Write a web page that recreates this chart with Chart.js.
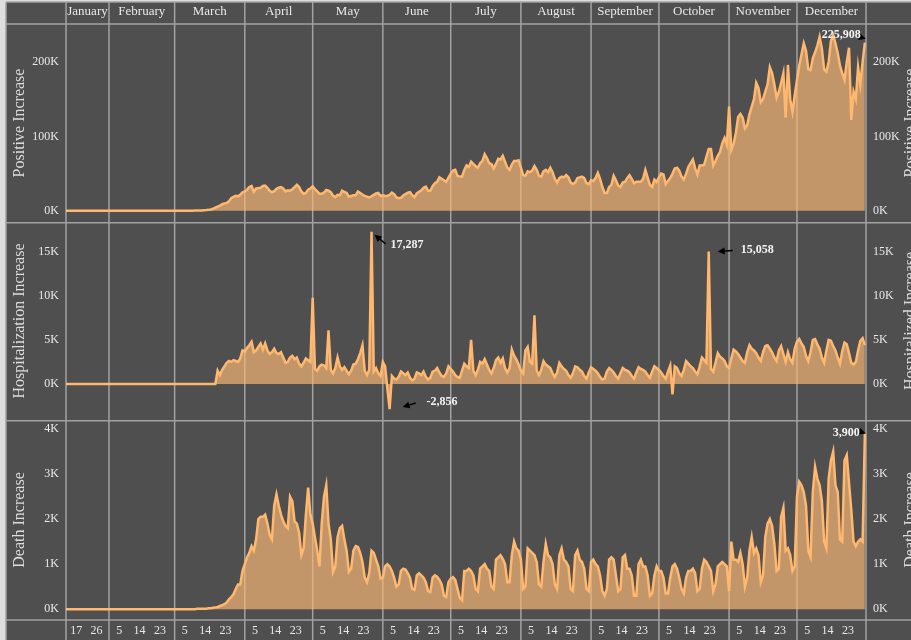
<!DOCTYPE html>
<html lang="en">
<head>
<meta charset="UTF-8">
<title>Daily increases 2020</title>
<script src="https://cdn.jsdelivr.net/npm/chart.js"></script>
<style>
    body { margin: 0; background: #dedede; }
    #frame { position: relative; width: 911px; height: 640px; }
    .pane { position: absolute; left: 0; width: 911px; }
    #p1 { top: 0; height: 222px; }
    #p2 { top: 222px; height: 198px; }
    #p3 { top: 420px; height: 220px; }
</style>
</head>
<body>
<div id="frame">
    <div class="pane" id="p1"><canvas id="c1"></canvas></div>
    <div class="pane" id="p2"><canvas id="c2"></canvas></div>
    <div class="pane" id="p3"><canvas id="c3"></canvas></div>
</div>

<script>
    // calendar / tick labels
    const months = ['January', 'February', 'March', 'April', 'May', 'June', 'July',
                    'August', 'September', 'October', 'November', 'December'];
    const firstDay = 13;            // data starts 13 January 2020
    const janTickDays = [17, 26];
    const tickDays = [5, 14, 23];
    const posTicks = [0, 100, 200];
    const hospTicks = [0, 5, 10, 15];
    const deathTicks = [0, 1, 2, 3, 4];

    // daily values, in thousands, one array per month
    const posJan = [0,0,0,0,0,0,0,0,0,0,0,0,0,0,0,0,0,0,0];
    const posFeb = [0,0,0,0,0,0,0,0,0,0,0,0,0,0,0,0,0,0,0,0,0,0,0,0,0,0,0,0,0];
    const posMar = [0,0,0.1,0.1,0.1,0.1,0.1,0.1,0.2,0.3,0.4,0.5,0.6,0.9,1.0,1.3,1.8,2.8,4.3,5.7,6.9,8.9,10.0,10.5,12.7,16.9,18.9,20.3,19.5,21.5,25.0];
    const posApr = [26.0,28.5,32.0,33.5,25.5,30.0,30.5,31.0,33.5,34.0,31.0,27.0,25.0,26.5,29.5,31.0,32.0,30.0,26.0,27.5,27.0,29.0,32.0,35.0,32.0,26.0,23.0,24.0,28.5,30.0];
    const posMay = [33.0,29.0,26.0,23.0,23.0,24.5,28.0,27.0,25.0,20.5,18.5,21.5,21.0,27.0,25.5,24.0,19.0,20.0,21.0,21.0,26.0,24.0,22.0,20.0,19.0,18.0,19.5,21.5,23.5,24.0,20.0];
    const posJun = [21.0,20.0,20.0,21.5,24.5,22.5,18.0,17.0,17.5,20.5,22.5,24.5,25.0,21.0,18.5,23.5,25.5,27.5,31.0,32.5,27.0,27.0,33.0,37.0,39.0,45.0,43.0,41.0,39.0,44.5];
    const posJul = [50,54,55,47,46,46,55,61,59,66,63,60,58,64,67,76,71,64,63,57,63,70,69,74,66,58,55,62,67,67,68];
    const posAug = [58,48,47,53,52,54,60,55,47,46,53,55,52,58,52,43,38,44,46,45,48,45,38,36,38,44,45,46,44,37,36];
    const posSep = [41,40,44,51,43,32,24,24,32,35,47,41,34,32,38,39,44,48,43,37,39,39,39,43,55,45,35,32,42,39];
    const posOct = [45,50,49,36,40,44,50,57,58,54,46,42,50,59,64,69,57,49,61,61,62,73,83,83,61,67,74,79,91,98,89];
    const posNov = [140,82,90,105,126,130,125,111,115,130,140,150,172,165,146,150,160,170,193,185,170,152,160,172,185,125,196,150,133,155];
    const posDec = [176,195,210,225,215,190,189,205,213,222,234,218,190,187,200,228,236,225,212,195,185,176,200,219,122,160,150,193,170,200,225.908];

    const hospJan = [0,0,0,0,0,0,0,0,0,0,0,0,0,0,0,0,0,0,0];
    const hospFeb = [0,0,0,0,0,0,0,0,0,0,0,0,0,0,0,0,0,0,0,0,0,0,0,0,0,0,0,0,0];
    const hospMar = [0,0,0,0,0,0,0,0,0,0,0,0,0,0,0,0,0,0,0,1.5,1.0,1.6,2.0,2.4,2.6,2.5,2.7,2.6,2.5,2.9,3.8];
    const hospApr = [3.7,4.1,4.4,4.8,3.6,3.8,4.2,4.6,3.9,4.6,3.8,3.4,3.6,4.0,3.5,3.4,3.6,3.0,2.4,2.5,3.0,3.2,2.8,3.0,2.3,2.0,2.4,2.9,2.7,2.5];
    const hospMay = [9.8,1.7,1.5,2.0,2.2,2.1,1.8,6.1,1.6,1.2,1.8,3.0,2.0,1.6,1.9,1.5,1.1,1.5,2.2,2.3,2.8,3.5,4.4,1.5,1.0,1.6,17.287,1.4,1.8,1.2,0.9];
    const hospJun = [2.5,2.0,-0.5,-2.856,0.9,0.6,0.5,0.8,1.4,1.2,1.0,1.3,0.7,0.4,0.6,1.3,1.2,1.0,1.4,0.8,0.5,0.7,1.4,1.5,1.8,1.3,0.9,0.8,1.2,2.0];
    const hospJul = [1.7,1.4,1.0,0.8,0.7,1.5,2.3,2.0,1.8,5.0,1.5,1.0,1.6,2.5,2.3,2.8,2.2,1.6,1.2,1.8,2.7,3.0,2.4,2.9,1.8,1.3,1.8,3.9,3.2,2.8,2.2];
    const hospAug = [1.5,1.2,3.8,4.2,2.5,2.3,7.8,1.5,1.0,1.6,2.6,2.2,2.0,1.8,1.2,0.8,1.3,2.4,2.0,1.7,1.5,1.0,0.7,1.2,2.0,1.9,1.6,1.4,0.9,0.6,1.3];
    const hospSep = [1.9,1.7,1.5,1.2,0.8,0.5,0.6,1.4,1.8,1.6,1.3,0.9,0.6,1.2,1.8,1.6,1.5,1.3,0.9,0.6,1.3,1.9,1.7,1.6,1.4,1.0,0.7,1.4,2.0,1.8];
    const hospOct = [1.6,1.3,0.9,0.6,1.4,2.1,-1.2,2.0,1.8,1.2,0.9,1.6,2.6,2.3,2.0,1.8,1.4,1.1,2.0,3.0,2.7,2.4,15.058,1.7,1.4,2.4,3.5,3.1,2.9,2.6,2.0];
    const hospNov = [1.8,2.9,3.9,3.7,3.4,3.0,2.6,2.4,3.6,4.4,4.0,3.8,3.5,3.0,2.6,3.6,4.3,4.4,4.0,3.6,3.0,2.6,3.8,4.3,3.4,2.5,3.6,2.8,2.4,4.0];
    const hospDec = [4.8,5.1,4.6,4.2,3.2,2.6,3.6,5.0,5.1,4.5,4.0,3.0,2.4,3.8,5.0,4.9,4.3,3.8,3.0,2.3,3.7,4.7,4.5,3.5,2.4,2.2,2.5,3.8,4.9,5.2,4.4];

    const deathJan = [0,0,0,0,0,0,0,0,0,0,0,0,0,0,0,0,0,0,0];
    const deathFeb = [0,0,0,0,0,0,0,0,0,0,0,0,0,0,0,0,0,0,0,0,0,0,0,0,0,0,0,0,0];
    const deathMar = [0,0,0,0,0,0,0,0,0,0,0.01,0.01,0.01,0.01,0.01,0.02,0.02,0.03,0.04,0.05,0.07,0.09,0.11,0.15,0.22,0.27,0.33,0.45,0.55,0.55,0.85];
    const deathApr = [1.0,1.15,1.25,1.4,1.3,1.55,2.0,2.05,2.05,2.1,1.9,1.65,1.55,2.3,2.55,2.3,2.1,1.95,1.85,1.8,2.5,2.4,1.95,1.9,1.7,1.2,1.35,2.1,2.7,2.1];
    const deathMay = [1.9,1.6,1.3,0.95,1.9,2.5,2.75,1.9,1.55,0.83,0.95,1.6,1.8,1.85,1.55,1.3,0.83,0.9,1.3,1.4,1.38,1.25,1.05,0.7,0.6,0.8,1.3,1.25,1.1,0.95,0.68];
    const deathJun = [0.7,0.95,1.0,0.95,0.85,0.7,0.5,0.55,0.85,0.9,0.88,0.8,0.7,0.45,0.43,0.75,0.8,0.75,0.7,0.6,0.4,0.38,0.7,0.75,0.72,0.65,0.55,0.3,0.27,0.6];
    const deathJul = [0.68,0.71,0.65,0.45,0.25,0.2,0.85,0.85,0.9,0.85,0.75,0.45,0.4,0.9,0.95,1.0,0.9,0.85,0.5,0.45,1.1,1.15,1.2,1.12,1.0,0.6,0.6,1.2,1.5,1.35,1.3];
    const deathAug = [1.1,0.45,0.5,1.35,1.3,1.25,1.2,1.05,0.55,0.5,1.05,1.45,1.2,1.15,1.0,0.55,0.45,1.2,1.35,1.1,1.05,0.95,0.45,0.4,1.2,1.3,1.1,1.05,0.9,0.45,0.4];
    const deathSep = [1.05,1.1,1.0,0.95,0.75,0.4,0.3,0.45,1.1,1.15,1.1,0.75,0.4,0.45,1.15,1.2,0.9,0.9,0.75,0.3,0.3,1.0,1.1,0.95,0.95,0.75,0.3,0.35,0.75,0.95];
    const deathOct = [0.85,0.85,0.7,0.35,0.35,0.7,0.95,1.0,0.9,0.7,0.45,0.35,0.7,0.85,0.85,0.9,0.8,0.4,0.45,0.9,1.1,1.05,0.95,0.85,0.4,0.55,0.95,1.0,1.05,1.0,0.95];
    const deathNov = [0.4,1.5,1.1,1.1,1.05,1.25,1.0,0.5,0.7,1.3,1.6,1.25,1.35,1.2,0.6,0.75,1.6,1.9,2.0,1.85,1.45,0.85,0.9,2.05,2.25,1.3,1.35,1.2,0.85,0.95];
    const deathDec = [2.5,2.83,2.75,2.6,2.3,1.3,1.16,2.6,3.16,2.9,2.75,2.4,1.5,1.35,2.9,3.3,3.5,2.75,2.6,1.55,1.5,3.3,3.42,2.8,2.2,1.5,1.4,1.5,1.55,1.5,3.9];

    const FONT = '"Liberation Serif", "DejaVu Serif", serif';
    const textColor = '#e8e8e8';
    const gridColor = '#a2a2a2';

    function monthStart(m) {
        return Math.round((Date.UTC(2020, m, 1) - Date.UTC(2020, 0, 0)) / 864e5);
    }
    function dayOf(m, d) { return monthStart(m) + d - 1; }
    const xMax = dayOf(11, 31) + 0.5;

    function toPoints(byMonth) {
        const pts = [];
        byMonth.forEach((vals, m) => {
            const start = m === 0 ? firstDay : monthStart(m);
            vals.forEach((v, i) => pts.push({x: start + i, y: v}));
        });
        return pts;
    }

    const headerTicks = months.map((name, m) => {
        const a = m === 0 ? firstDay : monthStart(m);
        const b = m === 11 ? xMax : monthStart(m + 1);
        return {value: (a + b) / 2, label: name};
    });
    const footerTicks = [];
    months.forEach((name, m) => {
        (m === 0 ? janTickDays : tickDays).forEach(d => footerTicks.push({value: dayOf(m, d) + 0.5, label: String(d)}));
    });

    // no extra room for edge labels, so the plot fills its pane
    function noPad(s) {
        s.paddingTop = 0; s.paddingBottom = 0; s.paddingLeft = 0; s.paddingRight = 0;
    }

    function xAxis(list, position, size, fontSize, pad) {
        return {
            type: 'linear', min: firstDay, max: xMax,
            display: !!list, position: position,
            grid: {display: false, drawTicks: false}, border: {display: false},
            afterBuildTicks: a => { if (list) a.ticks = list.map(t => ({value: t.value})); },
            afterFit: s => { s.height = size; noPad(s); },
            ticks: {
                autoSkip: false, maxRotation: 0, padding: pad, color: textColor,
                font: {family: FONT, size: fontSize},
                callback: (v, i) => list ? list[i].label : ''
            }
        };
    }

    function yAxis(min, max, ticks, position, title) {
        return {
            min: min, max: max, position: position,
            grid: {display: false, drawTicks: false}, border: {display: false},
            afterBuildTicks: a => { a.ticks = ticks.map(v => ({value: v})); },
            afterFit: s => { s.width = position === 'left' ? 66 : 45; noPad(s); },
            ticks: {color: textColor, padding: 7, font: {family: FONT, size: 12}, callback: v => v + 'K'},
            title: {display: !!title, text: title || '', color: '#dcdcdc',
                    font: {family: FONT, size: 16}, padding: {top: 10, bottom: 0}}
        };
    }

    function arrow(ctx, x1, y1, x2, y2) {
        const a = Math.atan2(y2 - y1, x2 - x1), c = Math.cos(a), s = Math.sin(a);
        ctx.beginPath();
        ctx.moveTo(x1, y1);
        ctx.lineTo(x2 - 4 * c, y2 - 4 * s);
        ctx.stroke();
        ctx.beginPath();
        ctx.moveTo(x2, y2);
        ctx.lineTo(x2 - 7 * c + 3.5 * s, y2 - 7 * s - 3.5 * c);
        ctx.lineTo(x2 - 7 * c - 3.5 * s, y2 - 7 * s + 3.5 * c);
        ctx.closePath();
        ctx.fill();
    }

    const framePlugin = {
        id: 'frame',
        beforeDraw(chart, args, o) {
            const {ctx, width, height} = chart;
            ctx.save();
            ctx.fillStyle = '#4f4f4f';
            ctx.fillRect(6, o.top ? 2 : 0, width - 6, height);
            ctx.restore();
        },
        beforeDatasetsDraw(chart, args, o) {
            const {ctx, width, height, chartArea: area, scales} = chart;
            const y0 = o.top ? 2 : 0;
            const line = (x1, y1, x2, y2) => {
                ctx.beginPath(); ctx.moveTo(x1, y1); ctx.lineTo(x2, y2); ctx.stroke();
            };
            ctx.save();
            ctx.strokeStyle = gridColor;
            ctx.lineWidth = 1.5;
            for (let m = 1; m < 12; m++) {
                const px = scales.x.getPixelForValue(monthStart(m));
                line(px, y0, px, height);
            }
            line(area.left, y0, area.left, height);
            line(area.right, y0, area.right, height);
            line(6, y0, 6, height);
            if (o.top) {
                line(6, 2, width, 2);
                line(6, area.top, width, area.top);
            } else {
                line(6, 0.75, width, 0.75);
            }
            if (o.bottom) line(6, area.bottom, width, area.bottom);

            // right-hand title, clipped by the canvas edge
            ctx.fillStyle = '#dcdcdc';
            ctx.font = '16px ' + FONT;
            ctx.textAlign = 'center';
            ctx.textBaseline = 'middle';
            ctx.translate(width, (area.top + area.bottom) / 2);
            ctx.rotate(-Math.PI / 2);
            ctx.fillText(o.rightTitle, 0, 0);
            ctx.restore();
        },
        afterDatasetsDraw(chart, args, o) {
            const {ctx} = chart;
            const data = chart.data.datasets[0].data;
            const meta = chart.getDatasetMeta(0);
            ctx.save();
            ctx.font = 'bold 12px ' + FONT;
            ctx.textBaseline = 'middle';
            ctx.strokeStyle = '#000';
            ctx.lineWidth = 1.5;
            o.callouts.forEach(c => {
                const i = data.findIndex(p => p.x === dayOf(c.m, c.d));
                const el = meta.data[i];
                ctx.fillStyle = '#000';
                arrow(ctx, el.x + c.ax, el.y + c.ay, el.x + c.bx, el.y + c.by);
                ctx.fillStyle = '#f4f4f4';
                ctx.textAlign = c.align;
                ctx.fillText(Math.round(data[i].y * 1000).toLocaleString('en-US'), el.x + c.dx, el.y + c.dy);
            });
            ctx.restore();
        }
    };

    function makeChart(id, byMonth, x, y, yR, frameOpts) {
        return new Chart(document.getElementById(id), {
            type: 'line',
            data: {
                datasets: [{
                    data: toPoints(byMonth),
                    borderColor: '#ffb86e',
                    backgroundColor: 'rgba(255, 187, 120, 0.66)',
                    borderWidth: 2.5,
                    pointRadius: 0,
                    tension: 0,
                    fill: 'origin'
                }]
            },
            options: {
                responsive: true,
                maintainAspectRatio: false,
                animation: false,
                layout: {padding: 0},
                scales: {x: x, y: y, yR: yR},
                plugins: {legend: {display: false}, tooltip: {enabled: false}, frame: frameOpts}
            },
            plugins: [framePlugin]
        });
    }

    makeChart('c1',
        [posJan, posFeb, posMar, posApr, posMay, posJun, posJul, posAug, posSep, posOct, posNov, posDec],
        xAxis(headerTicks, 'top', 24, 13, 5),
        yAxis(-15, 251, posTicks, 'left', 'Positive Increase'),
        yAxis(-15, 251, posTicks, 'right'),
        {top: true, bottom: false, rightTitle: 'Positive Increase',
         callouts: [{m: 11, d: 31, dx: -4, dy: -8, align: 'right', ax: -6, ay: -6, bx: 1, by: -4}]});

    makeChart('c2',
        [hospJan, hospFeb, hospMar, hospApr, hospMay, hospJun, hospJul, hospAug, hospSep, hospOct, hospNov, hospDec],
        xAxis(null, 'bottom', 0, 12, 0),
        yAxis(-4.1, 18.4, hospTicks, 'left', 'Hospitalization Increase'),
        yAxis(-4.1, 18.4, hospTicks, 'right'),
        {top: false, bottom: false, rightTitle: 'Hospitalized Increase',
         callouts: [
            {m: 4, d: 27, dx: 19, dy: 13, align: 'left', ax: 14, ay: 12, bx: 3, by: 3},
            {m: 5, d: 4, dx: 37, dy: -7, align: 'left', ax: 26, ay: -6, bx: 13, by: -2},
            {m: 9, d: 23, dx: 32, dy: -2, align: 'left', ax: 24, ay: -1, bx: 9, by: 0}
         ]});

    makeChart('c3',
        [deathJan, deathFeb, deathMar, deathApr, deathMay, deathJun, deathJul, deathAug, deathSep, deathOct, deathNov, deathDec],
        xAxis(footerTicks, 'bottom', 20, 12, 4),
        yAxis(-0.24, 4.2, deathTicks, 'left', 'Death Increase'),
        yAxis(-0.24, 4.2, deathTicks, 'right'),
        {top: false, bottom: true, rightTitle: 'Death Increase',
         callouts: [{m: 11, d: 31, dx: -5, dy: -1, align: 'right', ax: -5, ay: -2, bx: 1, by: 0}]});
</script>
</body>
</html>
